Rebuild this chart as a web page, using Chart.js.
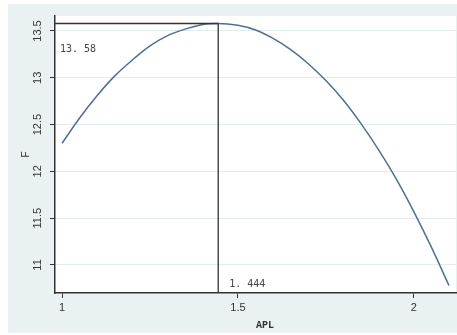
<!DOCTYPE html>
<html>
<head>
<meta charset="utf-8">
<script src="https://cdn.jsdelivr.net/npm/chart.js@4/dist/chart.umd.min.js"></script>
<style>
    html, body { margin: 0; padding: 0; background: #ffffff; }
    #wrap { width: 457px; height: 335px; }
</style>
</head>
<body>
<div id="wrap"><canvas id="chart" width="457" height="335"></canvas></div>
<script>
// values
const apl = [1.00, 1.05, 1.10, 1.15, 1.20, 1.25, 1.30, 1.35, 1.40, 1.444, 1.50, 1.55,
             1.60, 1.65, 1.70, 1.75, 1.80, 1.85, 1.90, 1.95, 2.00, 2.05, 2.10];
const fValues = [12.30, 12.57, 12.81, 13.02, 13.19, 13.34, 13.45, 13.52, 13.57, 13.58, 13.56, 13.51,
                 13.42, 13.30, 13.15, 12.97, 12.76, 12.51, 12.23, 11.92, 11.57, 11.19, 10.78];
const xTicks = [1, 1.5, 2];
const yTicks = [11, 11.5, 12, 12.5, 13, 13.5];
const peakX = 1.444;
const peakY = 13.58;
const peakXLabel = '1. 444';
const peakYLabel = '13. 58';

const points = apl.map((x, i) => ({ x: x, y: fValues[i] }));

// background, reference lines and text
const decor = {
    id: 'decor',
    beforeDraw(chart) {
        const ctx = chart.ctx;
        const a = chart.chartArea;
        ctx.save();
        ctx.fillStyle = '#ffffff';
        ctx.fillRect(0, 0, chart.width, chart.height);
        ctx.fillStyle = '#eaf1f3';
        ctx.fillRect(8, 4, chart.width - 8, 329);
        ctx.fillStyle = '#ffffff';
        ctx.fillRect(a.left, a.top, a.right - a.left, a.bottom - a.top);
        ctx.restore();
    },
    afterDatasetsDraw(chart) {
        const ctx = chart.ctx;
        const xs = chart.scales.x;
        const ys = chart.scales.y;
        const px = xs.getPixelForValue(peakX);
        const py = ys.getPixelForValue(peakY);
        ctx.save();
        ctx.strokeStyle = '#333333';
        ctx.lineWidth = 1.3;
        ctx.beginPath();
        ctx.moveTo(xs.left, py);
        ctx.lineTo(px, py);
        ctx.moveTo(px, py);
        ctx.lineTo(px, ys.bottom);
        ctx.stroke();

        ctx.fillStyle = '#444444';
        ctx.font = '10px "DejaVu Sans Mono"';
        ctx.textBaseline = 'middle';
        ctx.textAlign = 'left';
        ctx.fillText(peakYLabel, xs.left + 5, py + 26);
        ctx.fillText(peakXLabel, px + 11, ys.bottom - 9);

        // axis titles
        ctx.fillStyle = '#333333';
        ctx.font = 'bold 10px "Liberation Mono"';
        ctx.textAlign = 'center';
        ctx.fillText('APL', 265, 325);
        ctx.translate(26, (ys.top + ys.bottom) / 2);
        ctx.rotate(-Math.PI / 2);
        ctx.font = '10px "Liberation Sans"';
        ctx.fillText('F', 0, 0);
        ctx.restore();
    }
};

const config = {
    type: 'line',
    data: {
        datasets: [{
            data: points,
            borderColor: '#4d6f95',
            borderWidth: 1.5,
            pointRadius: 0,
            cubicInterpolationMode: 'monotone',
            fill: false
        }]
    },
    options: {
        responsive: false,
        animation: false,
        layout: { padding: { top: 16, right: 1, left: 0, bottom: 0 } },
        plugins: {
            legend: { display: false },
            tooltip: { enabled: false }
        },
        scales: {
            x: {
                type: 'linear',
                min: 0.98,
                max: 2.12,
                afterBuildTicks: (scale) => { scale.ticks = xTicks.map(v => ({ value: v })); },
                afterFit: (scale) => { scale.height = 42; },
                grid: { drawOnChartArea: false, tickLength: 5, tickColor: '#333333' },
                border: { color: '#333333', width: 1.5 },
                ticks: {
                    color: '#333333',
                    font: { family: 'Liberation Sans', size: 11 },
                    padding: 3,
                    maxRotation: 0,
                    callback: (value) => String(value)
                }
            },
            y: {
                type: 'linear',
                min: 10.70,
                max: 13.66,
                afterBuildTicks: (scale) => { scale.ticks = yTicks.map(v => ({ value: v })); },
                afterFit: (scale) => { scale.width = 55; },
                grid: { color: '#e3edf0', lineWidth: 1, tickLength: 5, tickColor: '#333333' },
                border: { color: '#333333', width: 1.5 },
                ticks: {
                    color: '#333333',
                    font: { family: 'Liberation Sans', size: 11 },
                    padding: 1,
                    minRotation: 90,
                    maxRotation: 90,
                    crossAlign: 'center',
                    callback: (value) => String(value)
                }
            }
        }
    },
    plugins: [decor]
};

const fChart = new Chart(document.getElementById('chart'), config);
</script>
</body>
</html>
